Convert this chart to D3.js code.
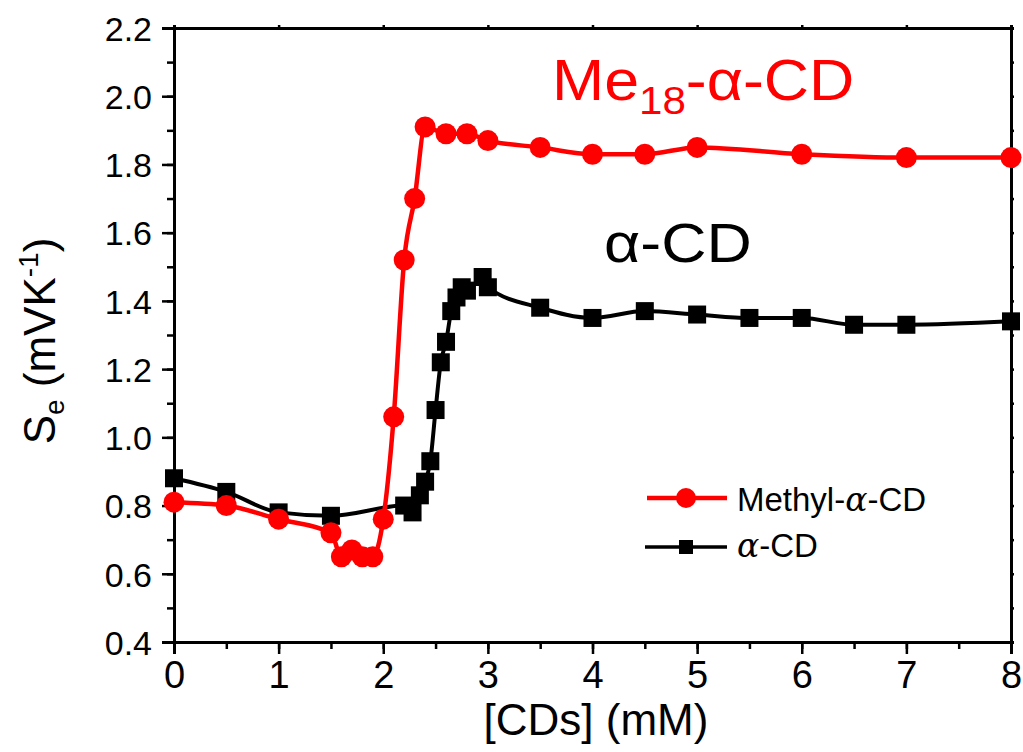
<!DOCTYPE html>
<html>
<head>
<meta charset="utf-8">
<script src="https://cdn.jsdelivr.net/npm/d3@7"></script>
<style>
  body { margin: 0; background: #fff; }
  svg { display: block; }
</style>
</head>
<body>
<script>
// data
var methylX = [0, 0.5, 1, 1.5, 1.6, 1.7, 1.8, 1.9, 2.0, 2.1, 2.2, 2.3, 2.4, 2.6, 2.8, 3.0, 3.5, 4, 4.5, 5, 6, 7, 8];
var methylY = [0.81, 0.80, 0.76, 0.72, 0.65, 0.67, 0.65, 0.65, 0.76, 1.06, 1.52, 1.70, 1.91, 1.89, 1.89, 1.87, 1.85, 1.83, 1.83, 1.85, 1.83, 1.82, 1.82];

var alphaX = [0, 0.5, 1, 1.5, 2.2, 2.28, 2.35, 2.4, 2.45, 2.5, 2.55, 2.6, 2.65, 2.7, 2.75, 2.8, 2.95, 3.0, 3.5, 4, 4.5, 5, 5.5, 6, 6.5, 7, 8];
var alphaY = [0.88, 0.84, 0.78, 0.77, 0.80, 0.78, 0.83, 0.87, 0.93, 1.08, 1.22, 1.28, 1.37, 1.41, 1.44, 1.43, 1.47, 1.44, 1.38, 1.35, 1.37, 1.36, 1.35, 1.35, 1.33, 1.33, 1.34];

var xTicks = [0, 1, 2, 3, 4, 5, 6, 7, 8];
var yTicks = [0.4, 0.6, 0.8, 1.0, 1.2, 1.4, 1.6, 1.8, 2.0, 2.2];

var W = 1023, H = 752;
var margin = {left: 174, top: 28, right: 12, bottom: 110};
var width = W - margin.left - margin.right;
var height = H - margin.top - margin.bottom;

var svg = d3.select('body').append('svg')
  .attr('width', W)
  .attr('height', H)
  .style('font-family', 'Liberation Sans, Arial, sans-serif');

var g = svg.append('g')
  .attr('transform', 'translate(' + margin.left + ',' + margin.top + ')');

var xScale = d3.scaleLinear().domain([0, 8]).range([0, width]);
var yScale = d3.scaleLinear().domain([0.4, 2.2]).range([height, 0]);

// minor ticks
var xMinor = d3.range(0, 8.01, 0.5);
var yMinor = d3.range(0.4, 2.21, 0.1);

// bottom axis
var bottom = g.append('g')
  .attr('transform', 'translate(0,' + height + ')');
bottom.call(d3.axisBottom(xScale).tickValues(xMinor).tickSize(7).tickFormat(''));
bottom.append('g').call(d3.axisBottom(xScale).tickValues(xTicks).tickSize(12).tickPadding(7)
  .tickFormat(d3.format('d')));

// left axis
var left = g.append('g');
left.call(d3.axisLeft(yScale).tickValues(yMinor).tickSize(7).tickFormat(''));
left.append('g').call(d3.axisLeft(yScale).tickValues(yTicks).tickSize(12).tickPadding(10)
  .tickFormat(d3.format('.1f')));

// top and right axes
g.append('g').call(d3.axisTop(xScale).tickValues(xTicks).tickSize(3).tickFormat(''));
g.append('g').attr('transform', 'translate(' + width + ',0)')
  .call(d3.axisRight(yScale).tickValues(yMinor).tickSize(3).tickFormat(''));

g.selectAll('.domain').attr('stroke', '#000').attr('stroke-width', 3);
g.selectAll('.tick line').attr('stroke', '#000').attr('stroke-width', 2.5);

bottom.selectAll('text')
  .attr('font-size', 38)
  .attr('fill', '#000');
left.selectAll('text')
  .attr('font-size', 34)
  .attr('fill', '#000')
  .attr('dy', '0.36em');

// lines and markers
var methyl = methylX.map(function(x, i) { return {x: x, y: methylY[i]}; });
var alpha = alphaX.map(function(x, i) { return {x: x, y: alphaY[i]}; });

var line = d3.line()
  .x(function(d) { return xScale(d.x); })
  .y(function(d) { return yScale(d.y); })
  .curve(d3.curveMonotoneX);

g.append('path')
  .datum(alpha)
  .attr('d', line)
  .attr('fill', 'none')
  .attr('stroke', '#000')
  .attr('stroke-width', 4);

g.selectAll('.sq')
  .data(alpha)
  .enter()
  .append('rect')
  .attr('class', 'sq')
  .attr('x', function(d) { return xScale(d.x) - 9; })
  .attr('y', function(d) { return yScale(d.y) - 9; })
  .attr('width', 18)
  .attr('height', 18)
  .attr('fill', '#000');

g.append('path')
  .datum(methyl)
  .attr('d', line)
  .attr('fill', 'none')
  .attr('stroke', '#ff0000')
  .attr('stroke-width', 4.5);

g.selectAll('.dot')
  .data(methyl)
  .enter()
  .append('circle')
  .attr('class', 'dot')
  .attr('cx', function(d) { return xScale(d.x); })
  .attr('cy', function(d) { return yScale(d.y); })
  .attr('r', 10.5)
  .attr('fill', '#ff0000');

// annotations (slightly wide lettering in the original)
var ann1 = svg.append('text')
  .attr('transform', 'translate(552,100) scale(1.08,1)')
  .attr('font-size', 58)
  .attr('fill', '#ff0000');
ann1.append('tspan').text('Me');
ann1.append('tspan').attr('font-size', 39).attr('dy', 14).text('18');
ann1.append('tspan').attr('dy', -14).text('-α-CD');

svg.append('text')
  .attr('transform', 'translate(604,262) scale(1.12,1)')
  .attr('font-size', 56)
  .attr('fill', '#000')
  .text('α-CD');

// legend
var legend = svg.append('g');
legend.append('line').attr('x1', 647).attr('x2', 727).attr('y1', 498).attr('y2', 498)
  .attr('stroke', '#ff0000').attr('stroke-width', 4.5);
legend.append('circle').attr('cx', 686).attr('cy', 498).attr('r', 10).attr('fill', '#ff0000');
var lt1 = legend.append('text').attr('x', 737).attr('y', 511).attr('font-size', 33).attr('fill', '#000');
lt1.append('tspan').text('Methyl-');
lt1.append('tspan').style('font-family', '"DejaVu Serif", serif').attr('font-style', 'italic').text('α');
lt1.append('tspan').text('-CD');

legend.append('line').attr('x1', 645).attr('x2', 727).attr('y1', 547).attr('y2', 547)
  .attr('stroke', '#000').attr('stroke-width', 3.5);
legend.append('rect').attr('x', 679).attr('y', 540).attr('width', 14).attr('height', 14).attr('fill', '#000');
var lt2 = legend.append('text').attr('x', 737).attr('y', 557).attr('font-size', 33).attr('fill', '#000');
lt2.append('tspan').style('font-family', '"DejaVu Serif", serif').attr('font-style', 'italic').text('α');
lt2.append('tspan').text('-CD');

// axis titles
svg.append('text')
  .attr('x', 596)
  .attr('y', 735)
  .attr('text-anchor', 'middle')
  .attr('font-size', 44)
  .text('[CDs] (mM)');

var yt = svg.append('text')
  .attr('transform', 'translate(55,341) rotate(-90)')
  .attr('text-anchor', 'middle')
  .attr('font-size', 44);
yt.append('tspan').text('S');
yt.append('tspan').attr('font-size', 28).attr('dy', 9).text('e');
yt.append('tspan').attr('dy', -9).text(' (mVK');
yt.append('tspan').attr('font-size', 28).attr('dy', -17).text('-1');
yt.append('tspan').attr('dy', 17).text(')');
</script>
</body>
</html>
